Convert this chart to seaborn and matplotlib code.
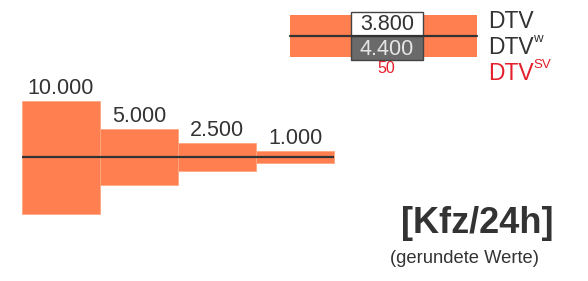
import numpy as np
import pandas as pd
import seaborn as sns
import matplotlib
matplotlib.use("Agg")
import matplotlib.pyplot as plt
from matplotlib.patches import Rectangle

# ---- data ----
stufen = [10000, 5000, 2500, 1000]
legend_labels = ["DTV", "DTV", "DTV"]
legend_sups = ["", "w", "SV"]
legend_values = [3800, 4400, 50]
unit_text = "[Kfz/24h]"
note_text = "(gerundete Werte)"

def fmt(v):
    return f"{v:,}".replace(",", ".")

sns.set_theme(style="white")
plt.rcParams["font.family"] = ["Liberation Sans", "DejaVu Sans"]

ORANGE = "#FF7F50"
TXT = "#333333"
RED = "#E3202B"

W, H = 588, 281
fig = plt.figure(figsize=(W / 100, H / 100), dpi=100)
fig.patch.set_facecolor("white")

# main axes: bar width 78 px, first bar starts at x=22 px, centre line at y=157 px
S = 10000 / 113.0  # units per pixel
ax = fig.add_axes([0, 0, 1, 1])
df = pd.DataFrame({"stufe": [fmt(v) for v in stufen],
                   "oben": np.array(stufen) / 2,
                   "unten": -np.array(stufen) / 2})
for col in ["oben", "unten"]:
    sns.barplot(data=df, x="stufe", y=col, ax=ax, color=ORANGE, saturation=1,
                width=1.0, errorbar=None, edgecolor="#FFA882", linewidth=0.6)
ax.set_xlim(-61 / 78, (W - 61) / 78)
ax.set_ylim(-(H - 157) * S, 157 * S)
ax.hlines(0, -0.5, len(stufen) - 0.5, color=TXT, lw=1.6, zorder=5)
for i, v in enumerate(stufen):
    ax.text(i, v / 2 + 7 * S, fmt(v), ha="center", va="baseline",
            fontsize=15.5, color=TXT)
ax.axis("off")

# overlay axes in pixel coordinates for the legend block
ax2 = fig.add_axes([0, 0, 1, 1])
ax2.set_xlim(0, W)
ax2.set_ylim(H, 0)
ax2.axis("off")
ax2.patch.set_alpha(0)

cy = 36
h = legend_values[0] / S
ax2.add_patch(Rectangle((290, cy - h / 2), 187, h, facecolor=ORANGE, edgecolor="none"))
ax2.add_patch(Rectangle((351, 12), 72, cy - 12, facecolor="white", edgecolor="#444444", lw=1, zorder=3))
ax2.add_patch(Rectangle((351, cy), 72, 24, facecolor="#6A6A6A", edgecolor="#444444", lw=1, zorder=3))
ax2.plot([290, 477], [cy, cy], color=TXT, lw=1.6, zorder=4)
ax2.text(387, 30, fmt(legend_values[0]), ha="center", va="baseline", fontsize=15.5, color=TXT, zorder=5)
ax2.text(387, 55, fmt(legend_values[1]), ha="center", va="baseline", fontsize=15.5, color="#E6E6E6", zorder=5)
ax2.text(386, 73, fmt(legend_values[2]), ha="center", va="baseline", fontsize=11.5, color=RED, zorder=5)

colors = [TXT, TXT, RED]
for k, (lab, sup, c) in enumerate(zip(legend_labels, legend_sups, colors)):
    y = 28 + 26 * k
    ax2.text(488, y, lab, ha="left", va="baseline", fontsize=16.5, color=c)
    if sup:
        ax2.text(533, y - 12, sup, ha="left", va="baseline", fontsize=9.5, color=c)

ax2.text(477, 233, unit_text, ha="center", va="baseline", fontsize=26, fontweight="bold", color=TXT)
ax2.text(390, 263, note_text, ha="left", va="baseline", fontsize=13.2, color=TXT)

fig.savefig("out.png", dpi=100, facecolor="white")
